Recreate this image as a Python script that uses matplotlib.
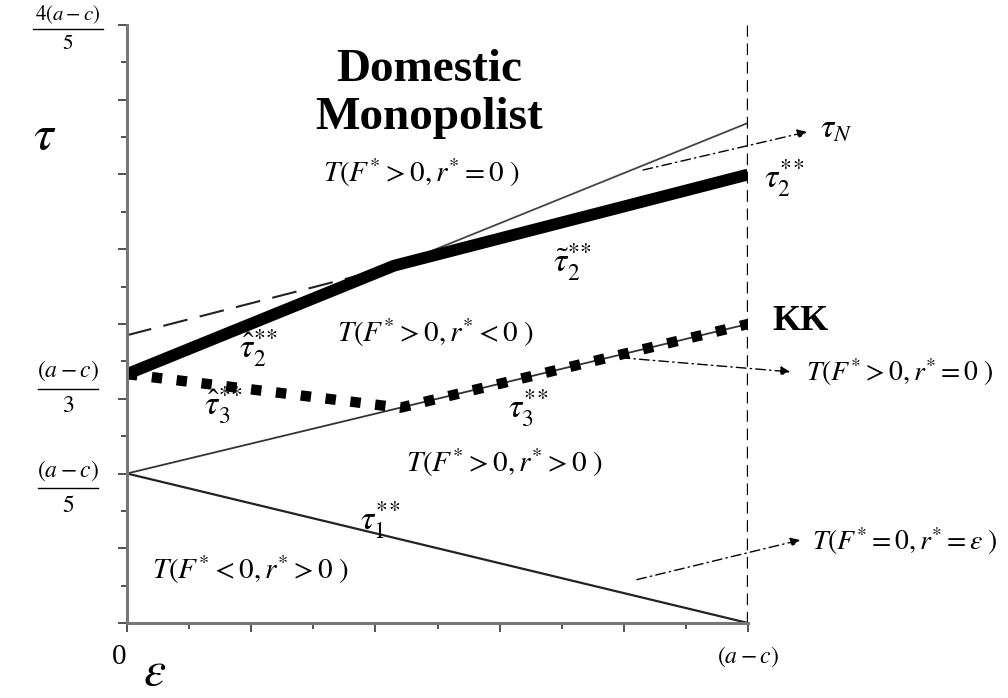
import matplotlib.pyplot as plt
import numpy as np

plt.rcParams['mathtext.fontset'] = 'stix'
plt.rcParams['font.family'] = ['Liberation Serif', 'DejaVu Serif']

# region boundaries, in units of (a-c)
x_ends = [0, 1]
tau1 = [0.2, 0.0]            # tau_1**
tau3 = [0.2, 0.4]            # tau_3**
tau_N = [0.333, 0.669]       # extension of hat tau_2**
tau_tilde2 = [0.385, 0.6]    # tilde tau_2**

# thick solid path (hat tau_2** -> tilde tau_2**)
thick_x = [0, 0.43, 1]
thick_y = [0.333, 0.478, 0.6]
# dashed extension of tilde tau_2** to the left
dash_x = [0, 0.43]
dash_y = [0.385, 0.477]
# thick dotted path (hat tau_3** -> tau_3**)
dot_x = [0, 0.44, 1]
dot_y = [0.333, 0.288, 0.4]

# y-axis fraction labels: numerator, denominator, value
frac_num = ['4(a-c)', '(a-c)', '(a-c)']
frac_den = ['5', '3', '5']
frac_val = [0.8, 1 / 3, 0.2]

fig = plt.figure(figsize=(10.08, 6.98), dpi=100)
ax = fig.add_axes([127 / 1008, 75 / 698, 621 / 1008, 598 / 698])
ax.set_xlim(0, 1)
ax.set_ylim(0, 0.8)

ax.plot(x_ends, tau1, color='#222222', lw=1.6)
ax.plot(x_ends, tau3, color='#333333', lw=1.3)
ax.plot(x_ends, tau_N, color='#444444', lw=1.3)
ax.plot(dash_x, dash_y, color='#222222', lw=1.5, dashes=(12, 6))
ax.plot(thick_x, thick_y, color='black', lw=8.5, solid_capstyle='butt')
ax.plot(dot_x, dot_y, color='black', lw=7.5, dashes=(1, 1.4), dash_capstyle='butt')
ax.axvline(1, ymin=0, ymax=1, color='black', lw=2.4, dashes=(3.5, 2))

# spines and ticks
for s in ['top', 'right']:
    ax.spines[s].set_visible(False)
for s in ['left', 'bottom']:
    ax.spines[s].set_color('#777777')
    ax.spines[s].set_linewidth(2.2)
ax.set_yticks(np.arange(0, 0.81, 0.1))
ax.set_yticks(np.arange(0.05, 0.8, 0.1), minor=True)
ax.set_xticks(np.arange(0, 1.01, 0.2))
ax.set_xticks(np.arange(0.1, 1.0, 0.2), minor=True)
ax.tick_params(which='both', color='#444444', width=1.3, labelleft=False, labelbottom=False)
ax.tick_params(which='major', length=6.5)
ax.tick_params(which='minor', length=4)

# axis labels
ax.text(-0.132, 0.65, r'$\tau$', fontsize=36, ha='center', va='center')
ax.text(0.045, -0.066, r'$\varepsilon$', fontsize=36, ha='center', va='center')
ax.text(-0.012, -0.045, '0', fontsize=21, ha='center', va='center')
ax.text(1.0, -0.045, r'$(a-c)$', fontsize=17, ha='center', va='center')

# fraction tick labels drawn as numerator / bar / denominator
for num, den, val in zip(frac_num, frac_den, frac_val):
    top = num.startswith('4')
    fs = 15 if top else 17
    off = 0.02 if top else 0.024
    y_bar = val - 0.006 if top else val - 0.02
    xc = -0.095
    hw = 0.056 if top else 0.048
    ax.text(xc, y_bar + off, '$' + num + '$', fontsize=fs, ha='center', va='center')
    ax.text(xc, y_bar - off, '$' + den + '$', fontsize=fs, ha='center', va='center')
    ax.plot([xc - hw, xc + hw], [y_bar, y_bar], color='black', lw=1.0, clip_on=False)

# region text
ax.text(0.486, 0.74, 'Domestic', fontsize=34, fontweight='bold', ha='center', va='center')
ax.text(0.487, 0.675, 'Monopolist', fontsize=34, fontweight='bold', ha='center', va='center')
rs = 21
ax.text(0.473, 0.603, r'$T(F^{*}>0, r^{*}=0\;)$', fontsize=rs, ha='center', va='center')
ax.text(0.496, 0.388, r'$T(F^{*}>0, r^{*}<0\;)$', fontsize=rs, ha='center', va='center')
ax.text(0.607, 0.215, r'$T(F^{*}>0, r^{*}>0\;)$', fontsize=rs, ha='center', va='center')
ax.text(0.198, 0.072, r'$T(F^{*}<0, r^{*}>0\;)$', fontsize=rs, ha='center', va='center')
ax.text(1.093, 0.336, r'$T(F^{*}>0, r^{*}=0\;)$', fontsize=20, ha='left', va='center', clip_on=False)
ax.text(1.103, 0.110, r'$T(F^{*}=0, r^{*}=\varepsilon\;)$', fontsize=20, ha='left', va='center', clip_on=False)

ls = 24
ax.text(1.025, 0.595, r'$\tau_2^{*\!*}$', fontsize=ls, ha='left', va='center')
ax.text(1.116, 0.662, r'$\tau_N$', fontsize=ls, ha='left', va='center')
ax.text(0.717, 0.483, r'$\tilde{\tau}_2^{*\!*}$', fontsize=ls, ha='center', va='center')
ax.text(0.211, 0.368, r'$\hat{\tau}_2^{*\!*}$', fontsize=ls, ha='center', va='center')
ax.text(0.155, 0.292, r'$\hat{\tau}_3^{*\!*}$', fontsize=ls, ha='center', va='center')
ax.text(0.646, 0.288, r'$\tau_3^{*\!*}$', fontsize=ls, ha='center', va='center')
ax.text(0.407, 0.138, r'$\tau_1^{*\!*}$', fontsize=ls, ha='center', va='center')
ax.text(1.04, 0.403, 'KK', fontsize=26, fontweight='bold', ha='left', va='center')

# dash-dot pointers
arrows = [((0.831, 0.606), (1.095, 0.657)),
          ((0.794, 0.355), (1.068, 0.336)),
          ((0.821, 0.058), (1.084, 0.111))]
for start, end in arrows:
    ax.annotate('', xy=end, xytext=start, annotation_clip=False,
                arrowprops=dict(arrowstyle='-|>', color='black', lw=1.0,
                                linestyle=(0, (7, 3, 1, 3)), mutation_scale=14,
                                shrinkA=0, shrinkB=0))

fig.savefig('out.png', dpi=100)
